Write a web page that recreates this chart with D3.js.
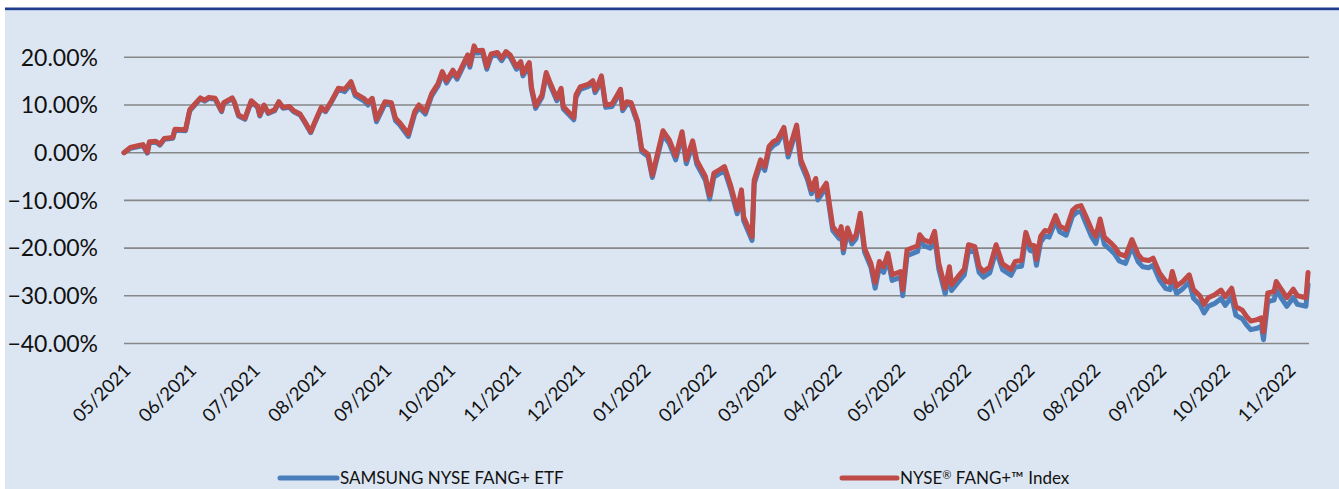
<!DOCTYPE html>
<html>
<head>
<meta charset="utf-8">
<script src="https://cdn.jsdelivr.net/npm/d3@7"></script>
<style>
  html, body { margin: 0; padding: 0; background: #fff; }
  svg { display: block; }
</style>
</head>
<body>
<svg id="chart" width="1339" height="489"></svg>
<script>
// days since 2021-05-01
const dayOffsets = [
  -2, 1, 5, 7, 9, 10, 13, 15, 17, 21, 22, 27, 29, 34, 36, 38, 41, 44, 45, 49,
  50, 52, 55, 58, 61, 62, 64, 66, 69, 71, 73, 76, 78, 81, 83, 86, 88, 91, 93, 96,
  99, 102, 105, 107, 111, 113, 115, 117, 121, 124, 126, 128, 132, 135, 137, 140, 143, 146, 148, 150,
  153, 155, 158, 160, 161, 163, 164, 167, 169, 171, 174, 176, 178, 180, 183, 185, 186, 189, 190, 192,
  195, 197, 199, 202, 204, 205, 210, 211, 213, 217, 219, 220, 221, 223, 225, 228, 232, 233, 235, 237,
  240, 242, 245, 247, 252, 255, 258, 261, 263, 266, 268, 272, 274, 276, 279, 281, 284, 287, 289, 290,
  294, 295, 298, 300, 302, 304, 306, 309, 311, 315, 317, 320, 322, 324, 325, 329, 332, 335, 336, 337,
  339, 341, 343, 345, 347, 350, 352, 354, 356, 358, 360, 364, 365, 367, 372, 373, 375, 378, 380, 382,
  385, 387, 388, 391, 394, 396, 399, 401, 403, 406, 409, 412, 416, 418, 421, 423, 425, 427, 428, 430,
  432, 434, 437, 439, 442, 445, 447, 449, 451, 454, 456, 458, 460, 463, 465, 467, 470, 473, 476, 478,
  481, 483, 486, 489, 491, 492, 494, 497, 500, 502, 505, 507, 509, 511, 512, 515, 517, 520, 522, 525,
  527, 529, 532, 534, 535, 537, 540, 541, 543, 546, 549, 551, 555, 556
]

// NYSE FANG+ Index, cumulative return in %
const indexReturn = [
  0.0, 1.1, 1.5, 1.7, 0.1, 2.3, 2.4, 1.8, 3.0, 3.2, 4.9, 4.8, 9.0, 11.5, 11.0, 11.6, 11.4, 8.8, 10.5, 11.5,
  10.7, 7.9, 7.2, 10.9, 9.7, 7.9, 10.0, 8.4, 9.0, 10.7, 9.5, 9.7, 8.8, 8.1, 6.7, 4.4, 6.5, 9.5, 8.8, 11.0,
  13.5, 13.3, 14.9, 12.4, 11.4, 10.5, 11.4, 7.0, 10.7, 10.5, 7.2, 6.3, 3.9, 8.6, 10.0, 8.6, 12.4, 14.5, 17.0, 15.1,
  17.3, 15.9, 18.7, 20.5, 18.4, 22.4, 21.4, 21.5, 18.0, 20.7, 21.0, 19.8, 21.2, 20.5, 18.0, 19.1, 16.6, 18.9, 13.8, 9.8,
  12.1, 16.8, 14.5, 11.4, 13.5, 9.7, 7.4, 12.1, 13.8, 14.4, 15.1, 13.1, 13.8, 16.1, 10.0, 10.2, 13.3, 9.3, 10.7, 10.5,
  6.7, 0.7, -0.3, -4.7, 4.6, 2.7, -0.7, 4.4, -1.5, 2.5, -1.7, -5.0, -8.9, -4.3, -3.5, -2.9, -7.0, -12.0, -7.8, -13.4,
  -17.6, -5.7, -1.5, -2.9, 1.3, 2.3, 2.8, 5.3, -0.1, 5.8, -1.5, -4.7, -7.8, -5.4, -9.1, -6.4, -15.5, -17.2, -15.5, -20.2,
  -15.8, -18.3, -17.2, -12.7, -20.0, -23.2, -27.2, -22.8, -23.9, -21.1, -25.6, -24.9, -28.8, -20.4, -19.5, -17.2, -18.3, -18.8, -16.5, -23.2,
  -28.4, -23.9, -27.7, -26.0, -24.4, -19.3, -19.7, -23.9, -24.9, -24.0, -19.3, -23.3, -24.5, -22.8, -22.6, -16.7, -19.3, -19.5, -22.4, -17.5,
  -16.3, -16.5, -13.2, -15.4, -16.1, -12.1, -11.3, -11.1, -13.0, -16.1, -17.5, -13.9, -17.7, -18.9, -19.8, -21.2, -21.7, -18.2, -21.4, -22.4,
  -22.6, -22.1, -25.2, -27.0, -27.2, -24.9, -28.0, -27.0, -25.6, -28.7, -30.0, -31.8, -30.4, -30.0, -29.8, -28.8, -30.2, -28.4, -32.3, -33.0,
  -34.3, -35.3, -35.0, -34.6, -37.6, -29.4, -29.1, -27.0, -28.4, -30.4, -28.6, -30.0, -30.4, -25.1
]

// SAMSUNG NYSE FANG+ ETF, cumulative return in %
const etfReturn = [
  0.0, 0.9, 1.3, 1.5, -0.1, 2.1, 2.2, 1.6, 2.8, 3.0, 4.7, 4.6, 8.8, 11.3, 10.8, 11.4, 11.2, 8.6, 10.3, 11.3,
  10.5, 7.7, 7.0, 10.7, 9.5, 7.7, 9.8, 8.2, 8.8, 10.5, 9.3, 9.5, 8.6, 7.9, 6.5, 4.2, 6.3, 9.3, 8.6, 10.8,
  13.3, 12.8, 14.4, 11.9, 10.9, 10.0, 10.9, 6.5, 10.2, 10.0, 6.7, 5.8, 3.4, 8.1, 9.5, 8.1, 11.9, 14.0, 16.5, 14.6,
  16.8, 15.4, 18.2, 20.0, 17.9, 21.9, 20.9, 21.0, 17.5, 20.2, 20.5, 19.3, 20.7, 20.0, 17.5, 18.6, 16.1, 18.4, 13.3, 9.3,
  11.6, 16.3, 14.0, 10.9, 13.0, 9.2, 6.9, 11.6, 13.3, 13.9, 14.6, 12.6, 13.3, 15.6, 9.5, 9.7, 12.8, 8.8, 10.2, 10.0,
  6.2, 0.2, -0.8, -5.2, 3.8, 1.9, -1.5, 3.6, -2.3, 1.7, -2.5, -5.8, -9.7, -5.1, -4.3, -3.7, -7.8, -12.8, -8.6, -14.2,
  -18.4, -6.5, -2.3, -3.7, 0.5, 1.5, 2.0, 4.5, -0.9, 5.0, -2.3, -5.5, -8.6, -6.2, -9.9, -7.2, -16.3, -18.0, -16.3, -21.0,
  -16.6, -19.1, -18.0, -13.5, -20.8, -24.0, -28.4, -24.0, -25.1, -22.3, -26.8, -26.1, -30.0, -21.6, -20.7, -18.4, -19.5, -20.0, -17.7, -24.4,
  -29.6, -25.1, -28.9, -27.2, -25.6, -20.5, -20.9, -25.1, -26.1, -25.2, -20.5, -24.5, -25.7, -24.0, -23.8, -17.9, -20.5, -20.7, -23.6, -18.7,
  -17.5, -17.7, -14.4, -16.6, -17.3, -13.3, -12.5, -12.3, -14.5, -17.6, -19.0, -15.4, -19.2, -20.4, -21.3, -22.7, -23.2, -19.7, -22.9, -23.9,
  -24.1, -23.6, -26.7, -28.5, -28.7, -26.4, -29.5, -28.5, -27.1, -30.5, -31.8, -33.6, -32.2, -31.8, -31.6, -30.6, -32.0, -30.2, -34.1, -34.8,
  -36.1, -37.1, -36.8, -36.4, -39.2, -31.2, -30.9, -28.8, -30.2, -32.2, -30.4, -31.8, -32.2, -27.6
]

const yTicks = [20, 10, 0, -10, -20, -30, -40]
const seriesNames = [["SAMSUNG NYSE FANG+ ETF"], ["NYSE", "\u00AE", " FANG+\u2122 Index"]]
const seriesColors = ["#4a7ebb", "#be4b48"]

const W = 1339, H = 489
const startDate = new Date(2021, 4, 1)
const endTick = new Date(2022, 10, 1)
const font = "Lato, 'Open Sans', sans-serif"

const svg = d3.select("#chart")

svg.append("rect").attr("x", 5).attr("y", 9).attr("width", W - 5).attr("height", H - 9).attr("fill", "#dce6f2")
svg.append("rect").attr("x", 5).attr("y", 7.5).attr("width", W - 5).attr("height", 2.5).attr("fill", "#1f3d8c")
svg.append("rect").attr("x", 5).attr("y", 10).attr("width", W - 5).attr("height", 1).attr("fill", "#b9c9e4")

const x = d3.scaleTime().domain([startDate, endTick]).range([128.2, 1293.2])
const y = d3.scaleLinear().domain([-40, 20]).range([343.5, 57.3])

const plotLeft = 124, plotRight = 1309

// gridlines
svg.append("g")
  .selectAll("line")
  .data(yTicks)
  .join("line")
  .attr("x1", plotLeft)
  .attr("x2", plotRight)
  .attr("y1", (d) => y(d))
  .attr("y2", (d) => y(d))
  .attr("stroke", "#878787")
  .attr("stroke-width", 1.6)

// y labels
svg.append("g")
  .selectAll("text")
  .data(yTicks)
  .join("text")
  .attr("x", 98)
  .attr("y", (d) => y(d))
  .attr("dy", "0.36em")
  .attr("text-anchor", "end")
  .attr("font-family", font)
  .attr("font-size", 23)
  .attr("fill", "#111")
  .text((d) => d3.format(".2f")(d) + "%")

// x labels
const months = d3.timeMonth.range(startDate, d3.timeDay.offset(endTick, 1))
svg.append("g")
  .selectAll("text")
  .data(months)
  .join("text")
  .attr("transform", (d) => `translate(${x(d) - 1},367) rotate(-45)`)
  .attr("dy", "0.36em")
  .attr("text-anchor", "end")
  .attr("font-family", font)
  .attr("font-size", 18.5)
  .attr("fill", "#111")
  .text(d3.timeFormat("%m/%Y"))

const dates = dayOffsets.map((d) => d3.timeDay.offset(startDate, d))
const line = d3.line()
  .x((d, i) => x(dates[i]))
  .y((d) => y(d))

const series = [etfReturn, indexReturn]
svg.append("g")
  .selectAll("path")
  .data(series)
  .join("path")
  .attr("d", (d) => line(d))
  .attr("fill", "none")
  .attr("stroke", (d, i) => seriesColors[i])
  .attr("stroke-width", 5)
  .attr("stroke-linejoin", "round")
  .attr("stroke-linecap", "round")

// legend
const legendY = 478
const legendPos = [{x0: 280, x1: 337}, {x0: 842, x1: 897}]
const lg = svg.append("g").selectAll("g").data(seriesNames).join("g")
lg.append("line")
  .attr("x1", (d, i) => legendPos[i].x0)
  .attr("x2", (d, i) => legendPos[i].x1)
  .attr("y1", legendY)
  .attr("y2", legendY)
  .attr("stroke", (d, i) => seriesColors[i])
  .attr("stroke-width", 5)
  .attr("stroke-linecap", "round")
lg.append("text")
  .attr("x", (d, i) => legendPos[i].x1 + 3)
  .attr("y", legendY)
  .attr("dy", "0.36em")
  .attr("font-family", font)
  .attr("font-size", 17)
  .attr("fill", "#111")
  .selectAll("tspan")
  .data((d) => d)
  .join("tspan")
  .attr("font-size", (d) => (d === "\u00AE" ? 11 : null))
  .attr("dy", (d, i) => (d === "\u00AE" ? -5 : i > 0 ? 5 : null))
  .text((d) => d)
</script>
</body>
</html>
